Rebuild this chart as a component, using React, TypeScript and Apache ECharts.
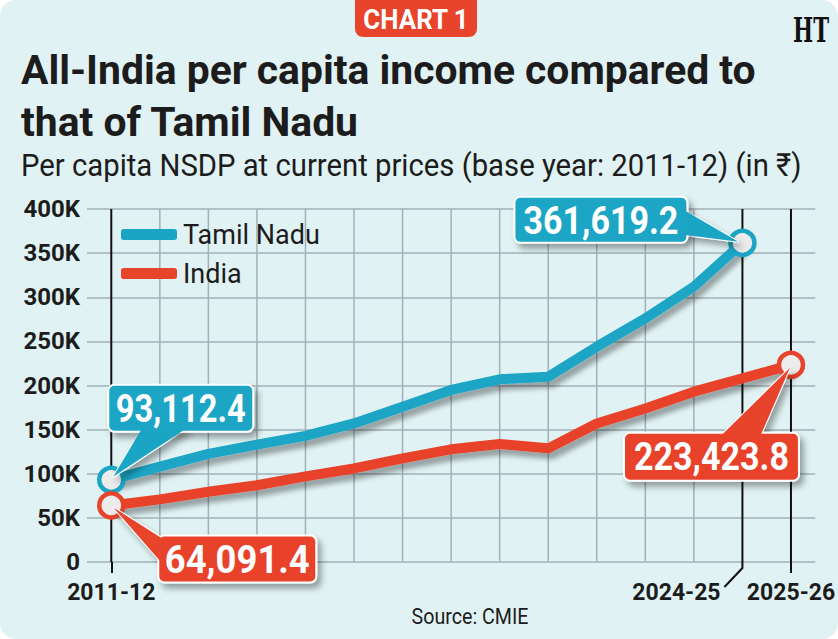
import React, { useEffect, useRef } from 'react';
import * as echarts from 'echarts';

const years = ['2011-12', '2012-13', '2013-14', '2014-15', '2015-16', '2016-17', '2017-18', '2018-19', '2019-20', '2020-21', '2021-22', '2022-23', '2023-24', '2024-25', '2025-26'];
const tamilNadu = [93112.4, 108000, 122500, 133000, 143000, 157000, 176000, 195000, 207000, 210000, 244000, 276000, 312000, 361619.2];
const india = [64091.4, 71000, 79600, 87000, 97000, 106000, 117500, 127700, 133700, 128800, 157000, 174000, 193000, 208000, 223423.8];
const shownYears = ['2011-12', '2024-25', '2025-26'];
const seriesNames = ['Tamil Nadu', 'India'];
const yMax = 400000;

const BLUE = '#1ba5c5';
const RED = '#e8432b';
const INK = '#1c1c1c';
const GRIDC = '#a2b1b9';
const FONT = 'Roboto, "Noto Sans", sans-serif';

function fitScale(text: string, font: string, target: number): number {
  const c = document.createElement('canvas').getContext('2d');
  if (!c) return 1;
  c.font = font;
  const w = c.measureText(text).width;
  return w > 0 ? target / w : 1;
}

function fmt(v: number): string {
  return v.toLocaleString('en-US', { minimumFractionDigits: 1, maximumFractionDigits: 1 });
}

export default function App() {
  const ref = useRef<HTMLDivElement>(null);
  useEffect(() => {
    document.body.style.margin = '0';
    if (!ref.current) return;
    const chart = echarts.init(ref.current, null, { renderer: 'svg' });

    const endItem = (v: number, color: string) => ({
      value: v,
      symbol: 'circle',
      symbolSize: 24,
      itemStyle: { color: '#ececec', borderColor: color, borderWidth: 4.5 },
    });
    const mk = (arr: number[], color: string) =>
      arr.map((v, i) => (i === 0 || i === arr.length - 1 ? endItem(v, color) : { value: v, symbolSize: 0 }));

    const lineStyle = (color: string) => ({
      width: 10,
      color,
      cap: 'round',
      join: 'round',
      shadowColor: 'rgba(0,0,0,0.33)',
      shadowBlur: 5,
      shadowOffsetX: 4,
      shadowOffsetY: 6,
    });

    const axisFont = { fontFamily: FONT, fontSize: 23, fontWeight: 'bold', color: INK };

    chart.setOption({
      animation: false,
      grid: { left: 87, right: 20, top: 209, bottom: 77, containLabel: false },
      legend: {
        orient: 'vertical',
        left: 116,
        top: 216,
        icon: 'roundRect',
        itemWidth: 56,
        itemHeight: 11,
        itemGap: 12,
        data: seriesNames,
        textStyle: { fontFamily: FONT, fontSize: 27, color: INK, padding: [0, 0, 0, 1] },
      },
      xAxis: {
        type: 'category',
        data: years,
        boundaryGap: true,
        axisLine: { show: false },
        axisTick: {
          show: true,
          alignWithLabel: true,
          interval: (i: number) => i === 0 || i === 14,
          length: 11,
          lineStyle: { color: '#111', width: 2 },
        },
        axisLabel: {
          ...axisFont,
          margin: 19,
          interval: (i: number, v: string) => shownYears.indexOf(v) >= 0,
          formatter: (v: string) => (v === '2024-25' ? '{s|' + v + '}' : v),
          rich: { s: { ...axisFont, padding: [0, 132, 0, 0] } },
        },
        splitLine: { show: false },
      },
      yAxis: {
        type: 'value',
        min: 0,
        max: yMax,
        interval: 50000,
        axisLine: { show: false },
        axisTick: { show: false },
        axisLabel: {
          ...axisFont,
          fontSize: 24,
          margin: 7,
          formatter: (v: number) => (v === 0 ? '0' : v / 1000 + 'K'),
        },
        splitLine: { lineStyle: { color: GRIDC, width: 1.5 } },
      },
      series: [
        {
          type: 'custom',
          silent: true,
          z: 1,
          data: years.map((y, i) => [i]),
          encode: { x: 0 },
          renderItem: (params: any, api: any) => {
            const i = api.value(0);
            const top = api.coord([i, yMax]);
            const bot = api.coord([i, 0]);
            const shown = shownYears.indexOf(years[i]) >= 0;
            return {
              type: 'line',
              shape: { x1: top[0], y1: top[1], x2: bot[0], y2: bot[1] },
              style: { stroke: shown ? '#111' : GRIDC, lineWidth: shown ? 2 : 1.5 },
              z2: shown ? 2 : 1,
            };
          },
        },
        {
          name: seriesNames[0],
          type: 'line',
          data: mk(tamilNadu, BLUE),
          symbol: 'circle',
          showAllSymbol: true,
          itemStyle: { color: BLUE },
          lineStyle: lineStyle(BLUE),
          z: 3,
        },
        {
          name: seriesNames[1],
          type: 'line',
          data: mk(india, RED),
          symbol: 'circle',
          showAllSymbol: true,
          itemStyle: { color: RED },
          lineStyle: lineStyle(RED),
          z: 4,
        },
      ],
    });

    const P = (i: number, v: number) => chart.convertToPixel({ xAxisIndex: 0, yAxisIndex: 0 }, [i, v]) as number[];

    const callout = (
      i: number,
      v: number,
      color: string,
      box: [number, number, number, number],
      base: [number, number, number, number],
      tip: [number, number],
      textW: number
    ) => {
      const [px, py] = P(i, v);
      const [l, r, t, b] = box;
      const pts = [
        [px + base[0], py + base[1]],
        [px + tip[0], py + tip[1]],
        [px + base[2], py + base[3]],
      ];
      const shadow = { shadowColor: 'rgba(0,0,0,0.35)', shadowBlur: 6, shadowOffsetX: 4, shadowOffsetY: 5 };
      const txt = fmt(v);
      const font = `bold 38px ${FONT}`;
      const sx = fitScale(txt, font, textW);
      return [
        { type: 'polygon', shape: { points: pts }, style: { fill: color, stroke: '#fff', lineWidth: 2, ...shadow }, z: 10 },
        { type: 'rect', shape: { x: px + l, y: py + t, width: r - l, height: b - t, r: 6 }, style: { fill: color, stroke: '#fff', lineWidth: 2, ...shadow }, z: 10 },
        { type: 'polygon', shape: { points: pts }, style: { fill: color }, z: 11 },
        {
          type: 'text',
          x: px + (l + r) / 2,
          y: py + (t + b) / 2 + 1,
          scaleX: sx,
          style: { text: txt, fill: '#fff', fontFamily: FONT, fontWeight: 'bold', fontSize: 38, align: 'center', verticalAlign: 'middle' },
          z: 12,
        },
      ];
    };

    const tnLast = tamilNadu.length - 1;
    const inLast = india.length - 1;
    const [x13] = P(13, 0);
    const [, y0] = P(0, 0);

    const titleFont = `bold 40px ${FONT}`;
    const subFont = `32px ${FONT}`;
    const t1 = 'All-India per capita income compared to';
    const t2 = 'that of Tamil Nadu';
    const sub = 'Per capita NSDP at current prices (base year: 2011-12) (in ₹)';
    const titleScale = fitScale(t1, titleFont, 735);
    const subScale = fitScale(sub, subFont, 781);
    const htFont = '"DejaVu Serif", "Liberation Serif", serif';

    chart.setOption({
      graphic: [
        { type: 'rect', shape: { x: 355, y: -10, width: 122, height: 47, r: 8 }, style: { fill: RED } },
        {
          type: 'text', x: 416, y: 20, scaleX: fitScale('CHART 1', `bold 28px ${FONT}`, 106),
          style: { text: 'CHART 1', fill: '#fff', fontFamily: FONT, fontWeight: 'bold', fontSize: 28, align: 'center', verticalAlign: 'middle' },
        },
        {
          type: 'text', x: 811, y: 30, scaleX: fitScale('HT', `bold 34px ${htFont}`, 36),
          style: { text: 'HT', fill: '#111', fontFamily: htFont, fontWeight: 'bold', fontSize: 34, align: 'center', verticalAlign: 'middle' },
        },
        {
          type: 'text', x: 21, y: 71, scaleX: titleScale,
          style: { text: t1, fill: INK, fontFamily: FONT, fontWeight: 'bold', fontSize: 40, align: 'left', verticalAlign: 'middle' },
        },
        {
          type: 'text', x: 21, y: 123, scaleX: titleScale,
          style: { text: t2, fill: INK, fontFamily: FONT, fontWeight: 'bold', fontSize: 40, align: 'left', verticalAlign: 'middle' },
        },
        {
          type: 'text', x: 21, y: 165, scaleX: subScale,
          style: { text: sub, fill: INK, fontFamily: FONT, fontSize: 32, align: 'left', verticalAlign: 'middle' },
        },
        {
          type: 'text', x: 470, y: 617, scaleX: fitScale('Source: CMIE', `22px ${FONT}`, 117),
          style: { text: 'Source: CMIE', fill: INK, fontFamily: FONT, fontSize: 22, align: 'center', verticalAlign: 'middle' },
        },
        {
          type: 'polyline',
          shape: { points: [[x13, y0], [x13, y0 + 6], [x13 - 18, y0 + 25]] },
          style: { stroke: '#111', lineWidth: 2, fill: 'none' },
        },
        ...callout(0, tamilNadu[0], BLUE, [-3, 142, -95, -48], [31, -52, 76, -52], [2, -3], 130),
        ...callout(tnLast, tamilNadu[tnLast], BLUE, [-228, -55, -46, 0], [-59, -33, -59, -8], [-4, -1], 155),
        ...callout(inLast, india[inLast], RED, [-167, 8, 68, 116], [-71, 72, -31, 72], [-1, 3], 155),
        ...callout(0, india[0], RED, [47, 205, 30, 77], [51, 33, 51, 58], [2, 2], 145),
      ],
    });

    return () => chart.dispose();
  }, []);

  return (
    <div style={{ width: 838, height: 639, background: '#e0f2f3', borderRadius: 16, overflow: 'hidden' }}>
      <div ref={ref} style={{ width: 838, height: 639 }} />
    </div>
  );
}
